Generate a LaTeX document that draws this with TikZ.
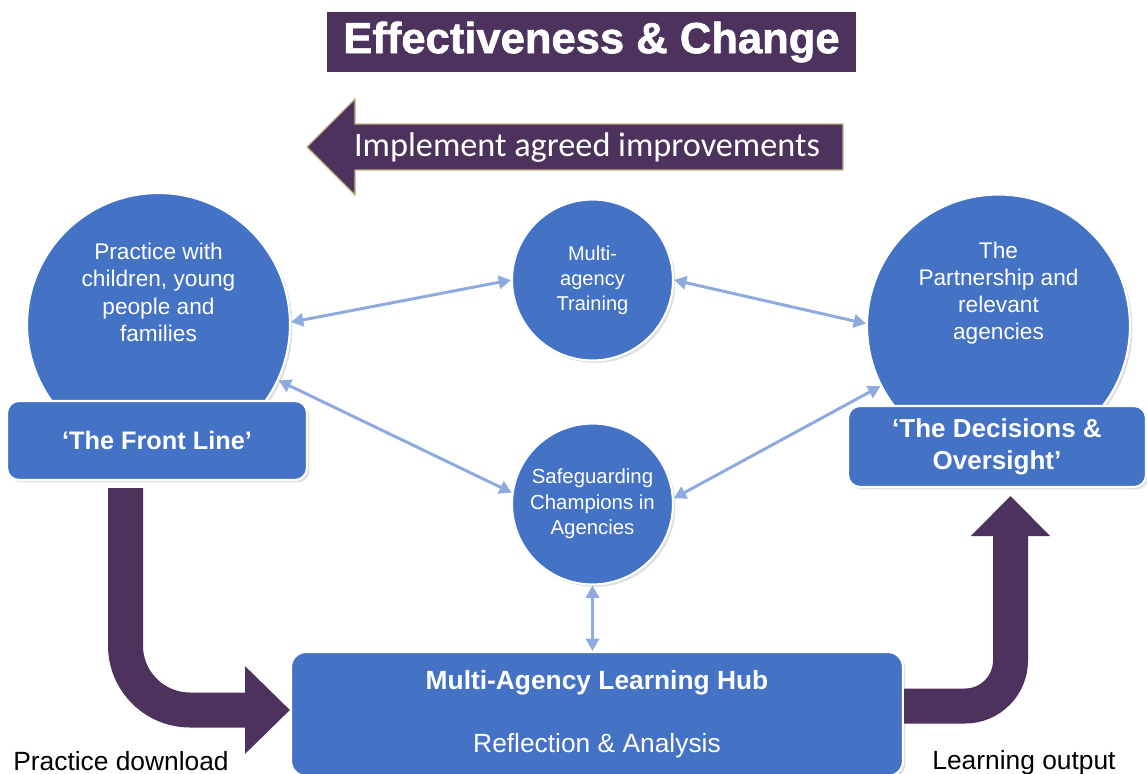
\documentclass[tikz,border=0pt]{standalone}
\usepackage{fontspec}
\setmainfont{Liberation Sans}
\newfontfamily\calibri{Carlito}
\newfontfamily\heading[FakeBold=1.4]{Liberation Sans Bold}
\usetikzlibrary{arrows.meta,calc,shadows}

\definecolor{hubblue}{HTML}{4472C4}
\definecolor{plum}{HTML}{4C325C}
\definecolor{linkblue}{HTML}{8FAADC}
\definecolor{banneredge}{HTML}{C4B283}

\tikzset{
  bubble/.style={circle, fill=hubblue, draw=white, line width=1.2pt, inner sep=0pt,
    drop shadow={shadow xshift=0.05cm, shadow yshift=-0.05cm, opacity=0.25}},
  panel/.style={rectangle, rounded corners=0.24cm, fill=hubblue, draw=white, line width=1.2pt,
    text=white, align=center, inner sep=0pt,
    drop shadow={shadow xshift=0.05cm, shadow yshift=-0.05cm, opacity=0.25}},
  intext/.style={text=white, align=center},
  link/.style={{Triangle[length=7pt,width=7.5pt]}-{Triangle[length=7pt,width=7.5pt]}, draw=linkblue, line width=1.7pt},
  flow/.style={draw=plum, line width=0.7cm},
}

\begin{document}
\begin{tikzpicture}[x=0.02cm, y=-0.02cm]
\useasboundingbox (0,0) rectangle (1147,774);

% heading and the feedback banner
\node[fill=plum, minimum width=10.58cm, minimum height=1.2cm, text=white,
  font=\heading\fontsize{24.8}{28}\selectfont] (title) at (591.5,42) {Effectiveness \& Change};
\filldraw[fill=plum, draw=banneredge, line width=0.8pt] (843,124) -- (355,124) -- (355,99)
  -- (307,147) -- (355,195) -- (355,170) -- (843,170) -- cycle;
\node[text=white, font=\calibri\fontsize{19.5}{23}\selectfont] (improve) at (587,148) {Implement agreed improvements};

% big circles at both ends
\node[bubble, minimum size=5.26cm] (Prac) at (158.5,324.5) {};
\node[bubble, minimum size=5.26cm] (Part) at (998.5,326) {};
\node[intext, font=\fontsize{12.9}{15.5}\selectfont] (PracTxt) at ($(Prac)+(0,-32)$)
  {Practice with\\children, young\\people and\\families};
\node[intext, font=\fontsize{12.9}{15.5}\selectfont] (PartTxt) at ($(Part)+(0,-33)$)
  {The\\Partnership and\\relevant\\agencies};

% small circles in the middle
\node[bubble, minimum size=3.22cm, intext, font=\fontsize{11.4}{14.2}\selectfont] (Train) at (592.5,280)
  {Multi-\\agency\\Training};
\node[bubble, minimum size=3.22cm, intext, font=\fontsize{11.6}{14.6}\selectfont] (Champ) at (592.5,504)
  {Safeguarding\\Champions in\\Agencies};

% boxes
\node[panel, minimum width=6cm, minimum height=1.58cm, font=\bfseries\fontsize{14.4}{18}\selectfont]
  (Front) at (157,440.5) {‘The Front Line’};
\node[panel, minimum width=5.96cm, minimum height=1.62cm, font=\bfseries\fontsize{14.8}{18.2}\selectfont]
  (Decide) at (997,446.5) {‘The Decisions \&\\Oversight’};
\node[panel, rounded corners=0.3cm, minimum width=12.24cm, minimum height=2.48cm,
  font=\fontsize{15}{35.8}\selectfont] (Hub) at (597,714)
  {\textbf{Multi-Agency Learning Hub}\\Reflection \& Analysis};

% two-way links
\draw[link] (Prac.1) -- (Train.180);
\draw[link] (Train.0) -- (Part.179);
\draw[link] (Prac.-25) -- (Champ.172);
\draw[link] (Champ.4) -- (Part.207);
\draw[link] (Champ.south) -- (Champ.south |- Hub.north);

% the loop arrows
\draw[flow, rounded corners=1.29cm, -{Triangle[length=0.9cm, width=1.7cm]}]
  ([xshift=-0.63cm, yshift=-0.14cm]Front.south) |- ([yshift=0.08cm]Hub.west);
\draw[flow, rounded corners=0.91cm, -{Triangle[length=0.8cm, width=1.54cm]}]
  ([yshift=0.16cm]Hub.east) -| ([xshift=0.27cm, yshift=-0.16cm]Decide.south);

\node[font=\fontsize{15}{18}\selectfont, anchor=base] (down) at (121,770) {Practice download};
\node[font=\fontsize{15}{18}\selectfont, anchor=base] (out) at (1024,769) {Learning output};
\end{tikzpicture}
\end{document}
